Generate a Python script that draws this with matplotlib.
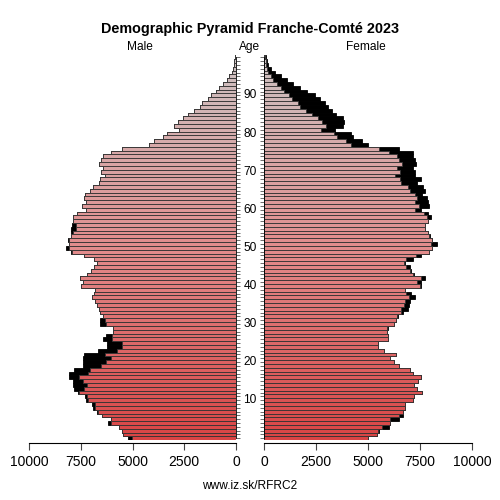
import matplotlib
matplotlib.use("Agg")
import matplotlib.pyplot as plt
import numpy as np

plt.rcParams['font.family'] = ['Liberation Sans', 'DejaVu Sans']

ages = list(range(0, 101))
male = [5200, 5440, 5490, 5670, 6170, 6040, 6490, 6730, 6890, 6970,
        7250, 7290, 7620, 7830, 7890, 7890, 8050, 8050, 7830, 7410,
        7410, 7410, 7340, 6650, 6210, 6210, 6410, 6280, 5920, 5920,
        6570, 6570, 6410, 6570, 6600, 6730, 6790, 6970, 6840, 6790,
        7490, 7370, 7530, 7180, 7020, 6840, 6730, 6840, 7330, 7970,
        8210, 8050, 8100, 7950, 7990, 7970, 7920, 7870, 7860, 7670,
        7250, 7440, 7250, 7340, 7280, 7040, 6920, 6600, 6550, 6310,
        6520, 6410, 6630, 6500, 6410, 6020, 5520, 4200, 3960, 3510,
        3350, 2750, 2980, 2790, 2580, 2320, 2030, 1740, 1630, 1350,
        1190, 970, 810, 610, 420, 320, 210, 130, 100, 80, 60]
female = [5020, 5450, 5530, 6030, 6060, 6500, 6700, 6660, 6790, 6790,
          7140, 7220, 7590, 7350, 7190, 7410, 7570, 7140, 7040, 6500,
          6260, 6060, 6340, 5770, 5500, 5500, 5970, 5970, 5930, 5980,
          6260, 6350, 6450, 6700, 6900, 6980, 7030, 7250, 7060, 6800,
          7570, 7540, 7730, 7190, 7060, 7000, 6770, 7140, 7570, 7910,
          8090, 8330, 8090, 7980, 7880, 7730, 7730, 7900, 8010, 7900,
          7530, 7930, 7900, 7850, 7610, 7720, 7640, 7360, 7530, 7240,
          7240, 7170, 7330, 7280, 7170, 7170, 6500, 5020, 4700, 4290,
          4170, 3400, 3790, 3830, 3790, 3470, 3260, 3100, 2940, 2670,
          2430, 2090, 1740, 1380, 1090, 820, 550, 340, 210, 130, 80]
xticks = [0, 2500, 5000, 7500, 10000]
age_labels = [10, 20, 30, 40, 50, 60, 70, 80, 90]

title = "Demographic Pyramid Franche-Comté 2023"
footer = "www.iz.sk/RFRC2"

ages_a = np.array(ages)
m = np.array(male, dtype=float)
f = np.array(female, dtype=float)
common = np.minimum(m, f)

# colour gradient red (young) -> pink -> grey (old)
def col(a):
    t = a / 100.0
    c0 = np.array([216, 68, 68]) / 255
    c1 = np.array([226, 140, 140]) / 255
    c2 = np.array([205, 195, 195]) / 255
    if t < 0.5:
        return tuple(c0 + (c1 - c0) * (t / 0.5))
    return tuple(c1 + (c2 - c1) * ((t - 0.5) / 0.5))

colors = [col(a) for a in ages]

W = H = 500.0
fig = plt.figure(figsize=(5, 5), dpi=100)
ybot = (H - 440.2) / H
ytop = (H - 55.4) / H
axL = fig.add_axes([29 / W, ybot, (236 - 29) / W, ytop - ybot])
axR = fig.add_axes([264 / W, ybot, (472 - 264) / W, ytop - ybot])

edge = '#333333'
lw = 0.6
for ax, vals in ((axL, m), (axR, f)):
    ax.barh(ages_a, vals, height=1.0, color='black', edgecolor='black', linewidth=lw)
    ax.barh(ages_a, common, height=1.0, color=colors, edgecolor=edge, linewidth=lw)
    ax.set_ylim(-0.5, 100.5)
    ax.set_xlim(0, 10000)
    ax.set_xticks(xticks)
    ax.set_xticklabels([str(v) for v in xticks], fontsize=8.6)
    ax.spines['top'].set_visible(False)
    ax.spines['bottom'].set_bounds(0, 10000)
    ax.spines['bottom'].set_position(('outward', 2))
    ax.tick_params(axis='x', length=5, width=0.8, color='#444444', pad=4)
    ax.set_yticks(ages)
    ax.set_yticklabels([])
    ax.tick_params(axis='y', length=3, width=0.6, color='#555555')
    ax.set_facecolor('none')

axL.set_xlim(10000, 0)
axL.spines['left'].set_visible(False)
axL.spines['right'].set_bounds(0, 100)
axL.yaxis.tick_right()
axR.spines['right'].set_visible(False)
axR.spines['left'].set_bounds(0, 100)
axR.yaxis.tick_left()
axL.spines['right'].set_linewidth(0.6)
axR.spines['left'].set_linewidth(0.6)

# age labels in the gap
def ypix(a):
    return ybot + (a + 0.5) / 101.0 * (ytop - ybot)

for a in age_labels:
    fig.text(250 / W, ypix(a), str(a), ha='center', va='center', fontsize=8.6)

fig.text(250 / W, 1 - 29 / H, title, ha='center', va='center', fontsize=10.4, fontweight='bold')
fig.text(140 / W, 1 - 47 / H, "Male", ha='center', va='center', fontsize=8.6)
fig.text(250 / W, 1 - 47 / H, "Age", ha='center', va='center', fontsize=8.6)
fig.text(366 / W, 1 - 47 / H, "Female", ha='center', va='center', fontsize=8.6)
fig.text(250 / W, 1 - 486 / H, footer, ha='center', va='center', fontsize=8.6)

fig.savefig("out.png", dpi=100, facecolor='white')
